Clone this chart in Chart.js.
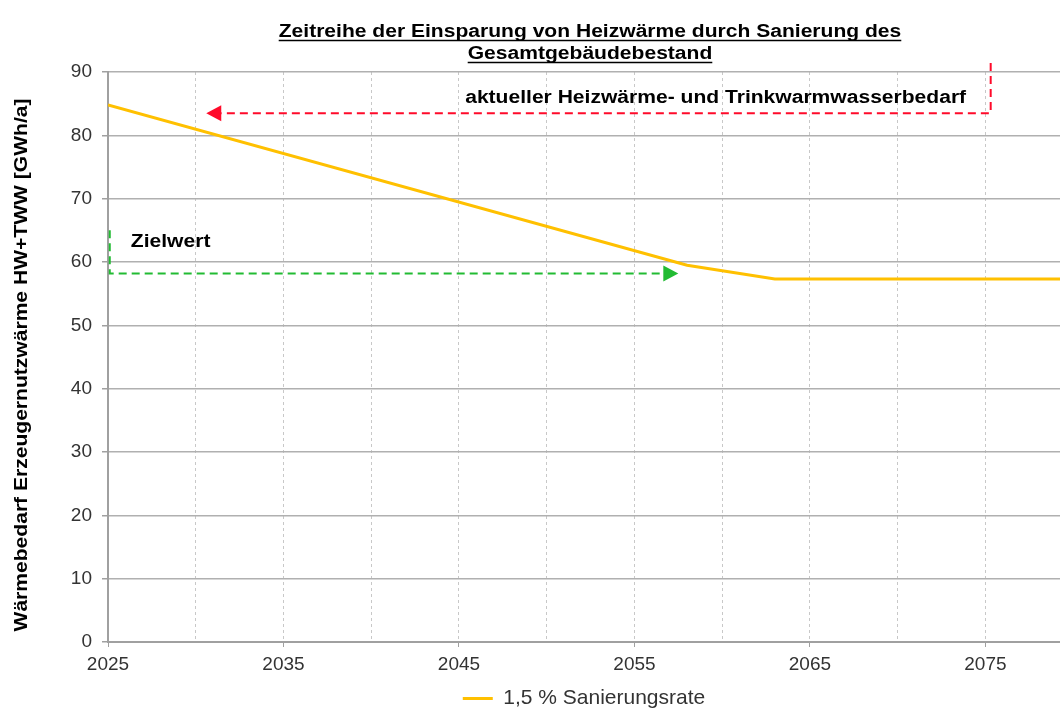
<!DOCTYPE html>
<html>
<head>
<meta charset="utf-8">
<script src="https://cdn.jsdelivr.net/npm/chart.js@4.4.1/dist/chart.umd.min.js"></script>
<style>
  html, body { margin: 0; padding: 0; background: #fff; }
  #wrap { width: 1060px; height: 709px; }
</style>
</head>
<body>
<div id="wrap"><canvas id="chart" width="1060" height="709"></canvas></div>
<script>
// series: 1,5 % Sanierungsrate
const years = [2025, 2058, 2063, 2080];
const heat_values = [84.8, 59.5, 57.3, 57.3];
const series_label = '1,5 % Sanierungsrate';

// axes
const x_grid_years = [2025, 2030, 2035, 2040, 2045, 2050, 2055, 2060, 2065, 2070, 2075];
const x_min = 2025;
const x_max = 2079.25;
const y_min = 0;
const y_max = 90;

// annotations
const current_demand = 83.5;      // aktueller Bedarf (rote Linie)
const current_from_year = 2075.3;
const current_to_year = 2030.6;
const target_value = 58.2;        // Zielwert (grüne Linie)
const target_top = 65;
const target_from_year = 2025.1;
const target_to_year = 2057.5;

const title_lines = ['Zeitreihe der Einsparung von Heizwärme durch Sanierung des', 'Gesamtgebäudebestand'];
const y_title = 'Wärmebedarf Erzeugernutzwärme HW+TWW [GWh/a]';
const current_text = 'aktueller Heizwärme- und Trinkwarmwasserbedarf';
const target_text = 'Zielwert';

const line_color = '#FFC000';
const red = '#FF0A2A';
const green = '#22BB33';
const font_family = '"Liberation Sans", Arial, sans-serif';
const bold_font = 'bold 18px ' + font_family;
const stretch = 1.17;   // the reference draws its bold texts wide

function arrow_head(ctx, x, y, dir, color) {
    ctx.save();
    ctx.fillStyle = color;
    ctx.beginPath();
    ctx.moveTo(x, y);
    ctx.lineTo(x - dir * 15, y - 8);
    ctx.lineTo(x - dir * 15, y + 8);
    ctx.closePath();
    ctx.fill();
    ctx.restore();
}

// wide text, returns the drawn width
function wide_text(ctx, text, x, y, align, rot) {
    ctx.save();
    ctx.translate(x, y);
    if (rot) ctx.rotate(rot);
    ctx.scale(stretch, 1);
    ctx.font = bold_font;
    ctx.fillStyle = '#000';
    ctx.textAlign = align;
    ctx.fillText(text, 0, 0);
    const w = ctx.measureText(text).width * stretch;
    ctx.restore();
    return w;
}

function dashed_path(ctx, color, pts) {
    ctx.save();
    ctx.strokeStyle = color;
    ctx.lineWidth = 2;
    ctx.setLineDash([8, 5]);
    ctx.beginPath();
    ctx.moveTo(pts[0][0], pts[0][1]);
    for (let i = 1; i < pts.length; i++) ctx.lineTo(pts[i][0], pts[i][1]);
    ctx.stroke();
    ctx.restore();
}

const annotations = {
    id: 'annotations',
    afterDatasetsDraw(chart) {
        const ctx = chart.ctx;
        const xs = chart.scales.x;
        const ys = chart.scales.y;
        const area = chart.chartArea;

        // red: current demand
        const rx = xs.getPixelForValue(current_from_year);
        const ry = ys.getPixelForValue(current_demand);
        const rtip = xs.getPixelForValue(current_to_year);
        dashed_path(ctx, red, [[rx, area.top - 9], [rx, ry], [rtip + 15, ry]]);
        arrow_head(ctx, rtip, ry, -1, red);

        // green: target value
        const gx = xs.getPixelForValue(target_from_year);
        const gy = ys.getPixelForValue(target_value);
        const gtip = xs.getPixelForValue(target_to_year);
        dashed_path(ctx, green, [[gx, ys.getPixelForValue(target_top)], [gx, gy], [gtip - 15, gy]]);
        arrow_head(ctx, gtip, gy, 1, green);

        ctx.save();
        ctx.textBaseline = 'middle';
        wide_text(ctx, current_text, xs.getPixelForValue(2073.9), ys.getPixelForValue(85.9), 'right');
        wide_text(ctx, target_text, xs.getPixelForValue(2026.3), ys.getPixelForValue(63.1), 'left');
        // y axis title
        wide_text(ctx, y_title, 22, (area.top + area.bottom) / 2 + 8, 'center', -Math.PI / 2);
        ctx.restore();

        // title, underlined
        ctx.save();
        ctx.textBaseline = 'alphabetic';
        ctx.strokeStyle = '#000';
        ctx.lineWidth = 1.5;
        const cx = 590;
        title_lines.forEach((t, i) => {
            const base = 37 + i * 22;
            const w = wide_text(ctx, t, cx, base, 'center');
            ctx.beginPath();
            ctx.moveTo(cx - w / 2, base + 3.5);
            ctx.lineTo(cx + w / 2, base + 3.5);
            ctx.stroke();
        });
        ctx.restore();
    }
};

window.onload = function() {
    const points = years.map((y, i) => ({x: y, y: heat_values[i]}));

    const chart_inner = {
        type: 'line',
        data: {
            datasets: [{
                label: series_label,
                data: points,
                borderColor: line_color,
                backgroundColor: line_color,
                borderWidth: 3,
                pointRadius: 0,
                tension: 0,
            }]
        },
        options: {
            responsive: false,
            animation: false,
            layout: { padding: { top: 72, right: 0, bottom: -10, left: 0 } },
            scales: {
                x: {
                    type: 'linear',
                    min: x_min,
                    max: x_max,
                    afterBuildTicks: (scale) => {
                        scale.ticks = x_grid_years.map(v => ({value: v}));
                    },
                    afterFit: (scale) => { scale.height = 46; },
                    ticks: {
                        autoSkip: false,
                        maxRotation: 0,
                        color: '#333',
                        font: { family: font_family, size: 19 },
                        padding: 6,
                        callback: (v) => ((v - 2025) % 10 === 0 ? String(v) : ''),
                    },
                    grid: {
                        color: '#c8c8c8',
                        lineWidth: 1,
                        tickLength: 5,
                        tickColor: (c) => (c.tick && (c.tick.value - 2025) % 10 === 0 ? '#a0a0a0' : 'rgba(0,0,0,0)'),
                    },
                    border: { display: true, color: '#a0a0a0', width: 2, dash: [3, 3] },
                },
                y: {
                    min: y_min,
                    max: y_max,
                    afterFit: (scale) => { scale.width = 108; },
                    ticks: {
                        stepSize: 10,
                        color: '#333',
                        font: { family: font_family, size: 19 },
                        padding: 10,
                    },
                    grid: {
                        color: '#b0b0b0',
                        lineWidth: 1.5,
                        tickLength: 6,
                        tickColor: '#a0a0a0',
                    },
                    border: { display: true, color: '#a0a0a0', width: 2 },
                },
            },
            plugins: {
                legend: {
                    position: 'bottom',
                    fullSize: false,
                    labels: {
                        boxWidth: 30,
                        boxHeight: 3,
                        color: '#333',
                        font: { family: font_family, size: 21 },
                        padding: 0,
                        generateLabels: (chart) => Chart.defaults.plugins.legend.labels.generateLabels(chart)
                            .map(l => ({...l, lineWidth: 0})),
                    },
                },
                tooltip: { enabled: false },
            },
        },
        plugins: [annotations],
    };

    const ctx = document.getElementById('chart').getContext('2d');
    const chart = new Chart(ctx, chart_inner);
};
</script>
</body>
</html>
